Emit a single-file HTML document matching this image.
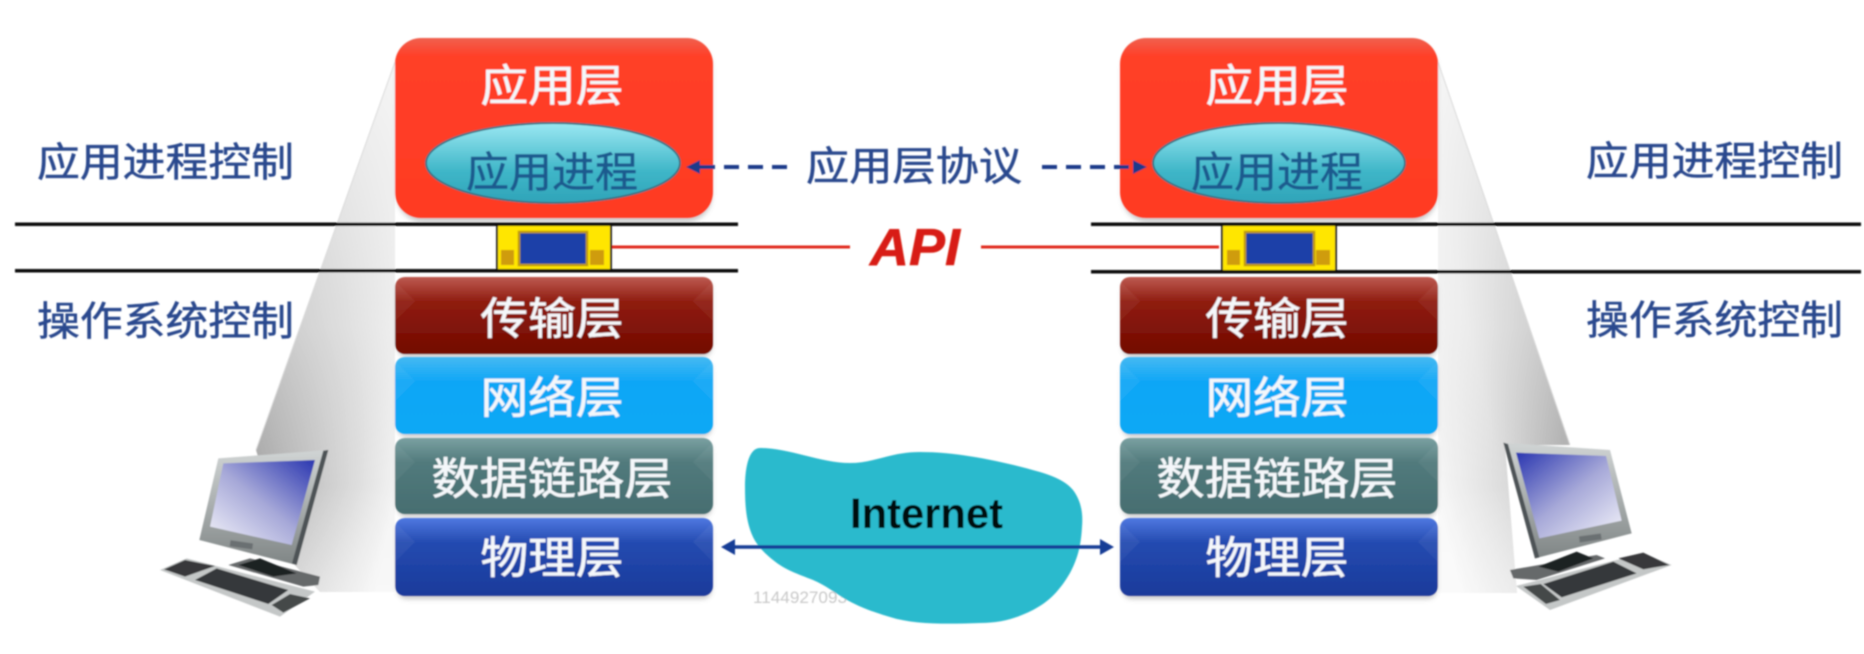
<!DOCTYPE html>
<html><head><meta charset="utf-8"><style>
html,body{margin:0;padding:0;background:#fff;width:1864px;height:654px;overflow:hidden}
svg{display:block}
text{font-family:"Liberation Sans","Noto Sans CJK SC",sans-serif}
.w{fill:#f4f7fa;stroke:#f4f7fa;stroke-width:.5px;font-size:44px;text-anchor:middle}
.b{fill:#2c4a8e;stroke:#2c4a8e;stroke-width:.5px;font-size:40px}
</style></head><body>
<svg width="1864" height="654" viewBox="0 0 1864 654" xmlns="http://www.w3.org/2000/svg">
<defs>
<filter id="s" x="-5%" y="-5%" width="110%" height="110%"><feGaussianBlur stdDeviation="0.9"/></filter>
<filter id="s3" x="-10%" y="-10%" width="120%" height="120%"><feGaussianBlur stdDeviation="2.5"/></filter>
<linearGradient id="gl" gradientUnits="userSpaceOnUse" x1="250" y1="470" x2="395" y2="500"><stop offset="0" stop-color="#a2a2a2"/><stop offset=".55" stop-color="#cfcfcf"/><stop offset="1" stop-color="#f4f4f4"/></linearGradient>
<linearGradient id="fade" x1="0" y1="0" x2="0" y2="1"><stop offset="0" stop-color="#fff" stop-opacity=".85"/><stop offset=".5" stop-color="#fff" stop-opacity=".45"/><stop offset=".8" stop-color="#fff" stop-opacity="0"/><stop offset="1" stop-color="#fff" stop-opacity=".35"/></linearGradient>
<linearGradient id="gr" gradientUnits="userSpaceOnUse" x1="1570" y1="470" x2="1438" y2="500"><stop offset="0" stop-color="#a8a8a8"/><stop offset=".5" stop-color="#dcdcdc"/><stop offset="1" stop-color="#f8f8f8"/></linearGradient>
<linearGradient id="red" x1="0" y1="0" x2="0" y2="1"><stop offset="0" stop-color="#f0604e"/><stop offset=".1" stop-color="#ff3f28"/><stop offset="1" stop-color="#ff3a22"/></linearGradient>
<linearGradient id="tr" x1="0" y1="0" x2="0" y2="1"><stop offset="0" stop-color="#bd5a50"/><stop offset=".32" stop-color="#8f1c10"/><stop offset="1" stop-color="#720a00"/></linearGradient>
<linearGradient id="nw" x1="0" y1="0" x2="0" y2="1"><stop offset="0" stop-color="#45b9f2"/><stop offset=".32" stop-color="#0fa6f6"/><stop offset="1" stop-color="#0ca8f4"/></linearGradient>
<linearGradient id="lk" x1="0" y1="0" x2="0" y2="1"><stop offset="0" stop-color="#7aa0a1"/><stop offset=".32" stop-color="#517a7c"/><stop offset="1" stop-color="#466d70"/></linearGradient>
<linearGradient id="ph" x1="0" y1="0" x2="0" y2="1"><stop offset="0" stop-color="#4f78e0"/><stop offset=".32" stop-color="#234ab0"/><stop offset="1" stop-color="#1a3a9a"/></linearGradient>
<linearGradient id="el" x1="0" y1="0" x2="0" y2="1"><stop offset="0" stop-color="#9be8f2"/><stop offset=".6" stop-color="#3fb6c8"/><stop offset="1" stop-color="#2fa3b8"/></linearGradient>
<linearGradient id="scrL" x1="1" y1="0" x2="0" y2="1"><stop offset="0" stop-color="#2a36b0"/><stop offset=".5" stop-color="#a6a8d8"/><stop offset="1" stop-color="#f4f4fa"/></linearGradient>
<linearGradient id="scrR" x1="0" y1="0" x2="1" y2="1"><stop offset="0" stop-color="#2a36b0"/><stop offset=".5" stop-color="#a6a8d8"/><stop offset="1" stop-color="#f4f4fa"/></linearGradient>
<linearGradient id="mon" x1="0" y1="0" x2="0" y2="1"><stop offset="0" stop-color="#d0d4d4"/><stop offset="1" stop-color="#7f8585"/></linearGradient>
<g id="bev">
<polygon points="0,4 20,24 0,44" fill="#fff" opacity=".05"/>
<polygon points="318,4 298,24 318,44" fill="#fff" opacity=".05"/>
</g>
</defs>
<rect width="1864" height="654" fill="#fff"/>
<g filter="url(#s)">
<!-- watermark -->
<text x="753" y="603" font-size="16.5" fill="#c9c9c9" textLength="94" lengthAdjust="spacingAndGlyphs">1144927093</text>

<!-- beams -->
<polygon points="395,62 395,592 320,592 290,560 256,450" fill="url(#gl)"/>
<polygon points="395,62 395,592 320,592 290,560 256,450" fill="url(#fade)"/>
<polygon points="1438,62 1438,593 1517,593 1505,445 1570,445" fill="url(#gr)"/>
<polygon points="1438,62 1438,593 1517,593 1505,445 1570,445" fill="url(#fade)"/>
<line x1="1438" y1="62" x2="1570" y2="445" stroke="#dadada" stroke-width="1"/>
<line x1="395" y1="62" x2="256" y2="450" stroke="#dadada" stroke-width="1"/>

<!-- cloud -->
<path d="M760,448 C790,448 820,463 850,463 C875,463 890,452 920,452 C960,452 1005,462 1040,472 C1060,478 1068,484 1073,490 C1082,502 1083,515 1082,527 C1081,545 1078,558 1070,573 C1060,590 1050,601 1033,610 C1015,619 1000,623 980,623 C950,624 915,625 890,617 C870,611 860,607 847,600 C835,593 825,585 813,580 C798,574 785,570 773,560 C763,552 757,545 753,537 C746,522 745,505 745,487 C745,470 748,448 760,448 Z" fill="#2bbacd"/>
<text x="850" y="528" font-size="43" font-weight="bold" fill="#06080c" textLength="153" lengthAdjust="spacingAndGlyphs">Internet</text>

<!-- box shadows -->
<g fill="#888" opacity=".45" filter="url(#s3)">
<rect x="397" y="42" width="315" height="180" rx="26"/><rect x="397" y="280" width="315" height="77" rx="10"/><rect x="397" y="360" width="315" height="77" rx="10"/><rect x="397" y="441" width="315" height="76" rx="10"/><rect x="397" y="521" width="315" height="78" rx="10"/>
<rect x="1122" y="42" width="315" height="180" rx="26"/><rect x="1122" y="280" width="315" height="77" rx="10"/><rect x="1122" y="360" width="315" height="77" rx="10"/><rect x="1122" y="441" width="315" height="76" rx="10"/><rect x="1122" y="521" width="315" height="78" rx="10"/>
</g>

<!-- left stack -->
<rect x="395" y="38" width="318" height="180" rx="26" fill="url(#red)"/>
<rect x="395" y="277" width="318" height="77" rx="10" fill="url(#tr)"/>
<rect x="395" y="357" width="318" height="77" rx="10" fill="url(#nw)"/>
<rect x="395" y="438" width="318" height="76" rx="10" fill="url(#lk)"/>
<rect x="395" y="518" width="318" height="78" rx="10" fill="url(#ph)"/>
<use href="#bev" x="395" y="277"/><use href="#bev" x="395" y="357"/><use href="#bev" x="395" y="438"/><use href="#bev" x="395" y="518"/>
<!-- right stack -->
<rect x="1120" y="38" width="318" height="180" rx="26" fill="url(#red)"/>
<rect x="1120" y="277" width="318" height="77" rx="10" fill="url(#tr)"/>
<rect x="1120" y="357" width="318" height="77" rx="10" fill="url(#nw)"/>
<rect x="1120" y="438" width="318" height="76" rx="10" fill="url(#lk)"/>
<rect x="1120" y="518" width="318" height="78" rx="10" fill="url(#ph)"/>
<use href="#bev" x="1120" y="277"/><use href="#bev" x="1120" y="357"/><use href="#bev" x="1120" y="438"/><use href="#bev" x="1120" y="518"/>

<!-- ellipses -->
<ellipse cx="553" cy="163" rx="127" ry="40" fill="url(#el)" stroke="#3d6f80" stroke-width="2"/>
<ellipse cx="1279" cy="163" rx="126" ry="40" fill="url(#el)" stroke="#3d6f80" stroke-width="2"/>

<!-- box text -->
<text class="w" x="552" y="101" textLength="143" lengthAdjust="spacingAndGlyphs">应用层</text>
<text class="w" x="1277" y="101" textLength="143" lengthAdjust="spacingAndGlyphs">应用层</text>
<text class="w" x="552" y="334" textLength="143" lengthAdjust="spacingAndGlyphs">传输层</text>
<text class="w" x="1277" y="334" textLength="143" lengthAdjust="spacingAndGlyphs">传输层</text>
<text class="w" x="552" y="413" textLength="143" lengthAdjust="spacingAndGlyphs">网络层</text>
<text class="w" x="1277" y="413" textLength="143" lengthAdjust="spacingAndGlyphs">网络层</text>
<text class="w" x="552" y="494" textLength="241" lengthAdjust="spacingAndGlyphs">数据链路层</text>
<text class="w" x="1277" y="494" textLength="241" lengthAdjust="spacingAndGlyphs">数据链路层</text>
<text class="w" x="552" y="573" textLength="143" lengthAdjust="spacingAndGlyphs">物理层</text>
<text class="w" x="1277" y="573" textLength="143" lengthAdjust="spacingAndGlyphs">物理层</text>
<text x="466" y="187" font-size="42" fill="#1c5a8e" stroke="#1c5a8e" stroke-width=".5" textLength="172" lengthAdjust="spacingAndGlyphs">应用进程</text>
<text x="1191" y="187" font-size="42" fill="#1c5a8e" stroke="#1c5a8e" stroke-width=".5" textLength="172" lengthAdjust="spacingAndGlyphs">应用进程</text>

<!-- side labels -->
<text class="b" x="37" y="176" textLength="257" lengthAdjust="spacingAndGlyphs">应用进程控制</text>
<text class="b" x="37" y="335" textLength="257" lengthAdjust="spacingAndGlyphs">操作系统控制</text>
<text class="b" x="1586" y="175" textLength="257" lengthAdjust="spacingAndGlyphs">应用进程控制</text>
<text class="b" x="1586" y="334" textLength="257" lengthAdjust="spacingAndGlyphs">操作系统控制</text>
<text class="b" x="806" y="180" textLength="216" lengthAdjust="spacingAndGlyphs">应用层协议</text>

<!-- dashed arrows -->
<line x1="700" y1="167" x2="788" y2="167" stroke="#1f3a8a" stroke-width="4" stroke-dasharray="15 9"/>
<polygon points="686,167 700,160 700,174" fill="#1f3a8a"/>
<line x1="1042" y1="167" x2="1135" y2="167" stroke="#1f3a8a" stroke-width="4" stroke-dasharray="15 9"/>
<polygon points="1147,167 1133,160 1133,174" fill="#1f3a8a"/>

<!-- API -->
<line x1="612" y1="247" x2="850" y2="247" stroke="#e02a1c" stroke-width="3"/>
<line x1="981" y1="247" x2="1219" y2="247" stroke="#e02a1c" stroke-width="3"/>
<text x="870" y="265" font-size="52" font-weight="bold" font-style="italic" fill="#d81f12" stroke="#d81f12" stroke-width=".6" textLength="90" lengthAdjust="spacingAndGlyphs">API</text>

<!-- chips -->
<rect x="497" y="225" width="114" height="46" fill="#ffe600" stroke="#222" stroke-width="2"/>
<rect x="519" y="232" width="68" height="33" fill="#1a40a8" stroke="#c09a10" stroke-width="2.500"/>
<rect x="501" y="250" width="13" height="15" fill="#cf9c08"/><rect x="590" y="250" width="14" height="15" fill="#cf9c08"/>
<rect x="1222" y="225" width="114" height="46" fill="#ffe600" stroke="#222" stroke-width="2"/>
<rect x="1245" y="232" width="69" height="33" fill="#1a40a8" stroke="#c09a10" stroke-width="2.500"/>
<rect x="1227" y="250" width="13" height="15" fill="#cf9c08"/><rect x="1316" y="250" width="14" height="15" fill="#cf9c08"/>

<!-- horizontal rules -->
<rect x="15" y="222.500" width="723" height="3.500" fill="#0a0a0a"/>
<rect x="15" y="269" width="723" height="3.500" fill="#0a0a0a"/>
<rect x="1091" y="222.500" width="770" height="3.500" fill="#0a0a0a"/>
<rect x="1091" y="270" width="770" height="3.500" fill="#0a0a0a"/>

<!-- physical arrow -->
<line x1="730" y1="547" x2="1105" y2="547" stroke="#173c96" stroke-width="3.500"/>
<polygon points="721,547 735,539 735,555" fill="#173c96"/>
<polygon points="1114,547 1100,539 1100,555" fill="#173c96"/>

<!-- left computer -->
<g transform="translate(140,430) scale(.33333)">
<polygon points="265,405 330,385 540,440 535,465 490,470" fill="#66696b"/>
<polygon points="295,405 360,385 470,430 400,440" fill="#1f2224"/>
<polygon points="235,85 565,60 470,405 178,330" fill="url(#mon)"/>
<polygon points="565,60 550,62 456,400 470,405" fill="#4e5356"/>
<polygon points="250,100 525,90 455,345 210,290" fill="url(#scrL)"/>
<rect x="270" y="335" width="68" height="18" fill="#6b7072" transform="rotate(8 300 345)"/>
<polygon points="60,420 140,385 525,485 420,560" fill="#c4c7c7"/>
<polygon points="72,418 135,390 225,408 135,440" fill="#37393b"/>
<polygon points="165,450 230,415 445,480 385,522" fill="#35383a"/>
<polygon points="395,525 450,492 510,505 430,548" fill="#45484a"/>
</g>

<!-- right computer -->
<g transform="translate(1480,430) scale(.33333)">
<polygon points="90,420 350,375 375,385 170,450 100,445" fill="#66696b"/>
<polygon points="175,410 290,365 340,385 235,425" fill="#1f2224"/>
<polygon points="70,38 390,60 455,310 165,385" fill="url(#mon)"/>
<polygon points="70,38 84,42 178,382 165,385" fill="#4e5356"/>
<polygon points="108,68 378,78 425,272 178,325" fill="url(#scrR)"/>
<rect x="298" y="315" width="66" height="18" fill="#6b7072" transform="rotate(-8 330 325)"/>
<polygon points="108,468 410,390 490,370 575,405 210,540" fill="#c4c7c7"/>
<polygon points="190,462 400,395 470,430 245,502" fill="#35383a"/>
<polygon points="130,470 182,462 240,510 198,522" fill="#45484a"/>
<polygon points="415,385 490,368 568,405 490,418" fill="#37393b"/>
</g>
</g>
</svg>
</body></html>
